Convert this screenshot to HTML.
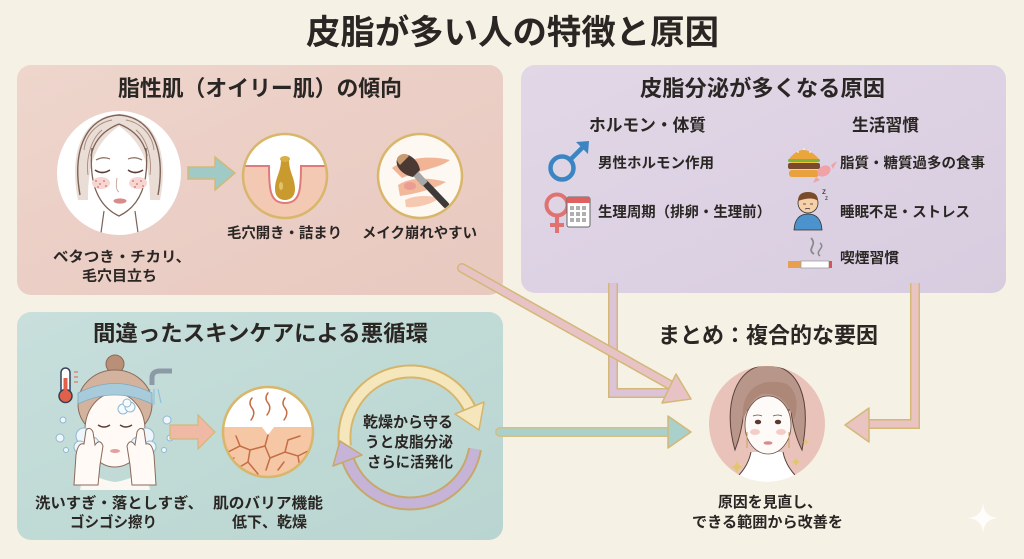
<!DOCTYPE html>
<html lang="ja">
<head>
<meta charset="utf-8">
<style>
  html,body{margin:0;padding:0;background:#f5f1e5;}
  svg{display:block;}
  text{font-family:"Liberation Sans","Noto Sans CJK JP",sans-serif;font-weight:700;fill:#2a2624;}
</style>
</head>
<body>
<svg width="1024" height="559" viewBox="0 0 1024 559" xmlns="http://www.w3.org/2000/svg">
  <defs>
    <linearGradient id="gPink" x1="0" y1="0" x2="1" y2="1">
      <stop offset="0" stop-color="#eed6cd"/>
      <stop offset="0.5" stop-color="#ebcec5"/>
      <stop offset="1" stop-color="#e8c9c0"/>
    </linearGradient>
    <linearGradient id="gLav" x1="0" y1="0" x2="1" y2="1">
      <stop offset="0" stop-color="#e1d7e6"/>
      <stop offset="0.5" stop-color="#ddd2e3"/>
      <stop offset="1" stop-color="#d8cde0"/>
    </linearGradient>
    <linearGradient id="gTeal" x1="0" y1="0" x2="1" y2="1">
      <stop offset="0" stop-color="#c8dfdc"/>
      <stop offset="0.5" stop-color="#c0dad6"/>
      <stop offset="1" stop-color="#bad5d1"/>
    </linearGradient>
    <clipPath id="c1"><circle cx="119" cy="173" r="62"/></clipPath>
    <clipPath id="c2"><circle cx="285" cy="176" r="42"/></clipPath>
    <clipPath id="c3"><circle cx="420" cy="176" r="42"/></clipPath>
    <clipPath id="c4"><circle cx="268" cy="432" r="45"/></clipPath>
    <clipPath id="c5"><circle cx="767" cy="424" r="58"/></clipPath>
  </defs>

  <rect x="0" y="0" width="1024" height="559" fill="#f5f1e5"/>

  <text x="306" y="44" font-size="34" textLength="413" lengthAdjust="spacingAndGlyphs">皮脂が多い人の特徴と原因</text>

  <rect x="17" y="65" width="486" height="230" rx="14" fill="url(#gPink)"/>
  <rect x="521" y="65" width="485" height="228" rx="14" fill="url(#gLav)"/>
  <rect x="17" y="312" width="486" height="228" rx="14" fill="url(#gTeal)"/>

  <!-- ===== Panel 1 ===== -->
  <text x="118" y="96" font-size="22" textLength="284" lengthAdjust="spacingAndGlyphs">脂性肌（オイリー肌）の傾向</text>

  <circle cx="119" cy="173" r="62" fill="#ffffff"/>
  <g clip-path="url(#c1)">
    <path d="M78,200 C68,150 84,116 119,114 C154,116 170,150 160,200 L150,200 C150,170 146,145 119,126 C92,145 88,170 88,200 Z" fill="#e9ddd6"/>
    <path d="M84,150 C86,132 100,122 112,120 M154,150 C152,132 138,122 126,120 M88,175 C86,160 90,140 102,130 M150,175 C152,160 148,140 136,130" fill="none" stroke="#a88a7c" stroke-width="0.9"/>
    <path d="M80,195 C72,150 86,117 119,115 C152,117 166,150 158,195" fill="none" stroke="#7d6256" stroke-width="1.4"/>
    <path d="M92,148 C89,180 96,205 119,216 C142,205 149,180 146,148" fill="none" stroke="#7d6256" stroke-width="1.3"/>
    <path d="M119,124 C104,130 94,140 91,156 M119,124 C134,130 144,140 147,156" fill="none" stroke="#7d6256" stroke-width="1.3"/>
    <path d="M96,160 Q103,156 110,159 M128,159 Q135,156 142,160" fill="none" stroke="#8a6a5e" stroke-width="1.2"/>
    <path d="M95,170 Q102,175 110,170 M128,170 Q135,175 143,170" fill="none" stroke="#5a4038" stroke-width="1.6"/>
    <ellipse cx="101" cy="183" rx="9" ry="6" fill="#f7d6d2"/>
    <ellipse cx="138" cy="183" rx="9" ry="6" fill="#f7d6d2"/>
    <g fill="#d0706a">
      <circle cx="96" cy="181" r="0.9"/><circle cx="100" cy="184" r="0.9"/><circle cx="104" cy="181" r="0.9"/><circle cx="98" cy="187" r="0.9"/><circle cx="106" cy="186" r="0.9"/>
      <circle cx="133" cy="181" r="0.9"/><circle cx="137" cy="184" r="0.9"/><circle cx="141" cy="181" r="0.9"/><circle cx="135" cy="187" r="0.9"/><circle cx="143" cy="186" r="0.9"/>
    </g>
    <path d="M117,178 Q115,190 119,192" fill="none" stroke="#c9a89c" stroke-width="1"/>
    <ellipse cx="120" cy="201" rx="6.5" ry="2.6" fill="#d98b8b"/>
    <path d="M104,211 L100,240 M135,211 L139,240" fill="none" stroke="#7d6256" stroke-width="1.2"/>
  </g>

  <path d="M188,167 H215 V157 L235,173 L215,190 V179 H188 Z" fill="#9fcac6" stroke="#d4b878" stroke-width="1.5"/>

  <circle cx="285" cy="176" r="42" fill="#ffffff"/>
  <g clip-path="url(#c2)">
    <path d="M240,166 H269 C269,190 270,203 285,203 C300,203 301,190 301,166 H330 V220 H240 Z" fill="#f3c9b3"/>
    <path d="M240,166 H269 C269,190 270,203 285,203 C300,203 301,190 301,166 H330" fill="none" stroke="#e07b7b" stroke-width="2"/>
    <path d="M281,160 C281,172 275,178 275,189 C275,197 280,200 285,200 C290,200 295,197 295,189 C295,178 289,172 289,160 Z" fill="#c99b2e"/>
    <ellipse cx="285" cy="159" rx="5" ry="3" fill="#d8ae45"/>
    <ellipse cx="281" cy="186" rx="2" ry="4" fill="#e8cc7a" opacity="0.8"/>
  </g>
  <circle cx="285" cy="176" r="42" fill="none" stroke="#d8b66a" stroke-width="2.5"/>

  <circle cx="420" cy="176" r="42" fill="#fdf8f2"/>
  <g clip-path="url(#c3)">
    <path d="M392,168 C405,158 430,155 450,160 C440,168 420,170 402,178 Z" fill="#f1b596"/>
    <path d="M398,185 C412,176 432,178 446,182 C432,190 414,194 400,196 Z" fill="#f0b090" opacity="0.9"/>
    <path d="M405,200 C418,194 430,196 440,198 C430,205 416,208 406,207 Z" fill="#f2bb9e" opacity="0.8"/>
    <ellipse cx="410" cy="186" rx="6" ry="4" fill="#e89090" opacity="0.7"/>
  </g>
  <line x1="425" y1="183" x2="446" y2="205" stroke="#3f3a3a" stroke-width="6.5" stroke-linecap="round"/>
  <line x1="416" y1="174" x2="425" y2="184" stroke="#a7a7a7" stroke-width="7"/>
  <path d="M398,157 C405,150 418,158 420,170 L413,177 C402,175 393,165 398,157 Z" fill="#4a3a33"/>
  <path d="M398,157 C401,153 406,153 409,156 L400,165 C397,162 396,159 398,157 Z" fill="#c99b6e"/>
  <circle cx="420" cy="176" r="42" fill="none" stroke="#d8b66a" stroke-width="2.5"/>

  <text x="227" y="238" font-size="14.5" textLength="115" lengthAdjust="spacingAndGlyphs">毛穴開き・詰まり</text>
  <text x="362" y="238" font-size="14.5" textLength="115" lengthAdjust="spacingAndGlyphs">メイク崩れやすい</text>
  <text x="53" y="262" font-size="14.5" textLength="138" lengthAdjust="spacingAndGlyphs">ベタつき・チカリ、</text>
  <text x="82" y="281" font-size="14.5" textLength="75" lengthAdjust="spacingAndGlyphs">毛穴目立ち</text>

  <!-- ===== Panel 2 ===== -->
  <text x="640" y="96" font-size="22" textLength="245" lengthAdjust="spacingAndGlyphs">皮脂分泌が多くなる原因</text>
  <text x="589" y="131" font-size="17" textLength="117" lengthAdjust="spacingAndGlyphs">ホルモン・体質</text>
  <text x="852" y="131" font-size="17" textLength="67" lengthAdjust="spacingAndGlyphs">生活習慣</text>

  <circle cx="562" cy="168" r="11.5" fill="none" stroke="#3b86c2" stroke-width="4.5"/>
  <line x1="570" y1="160" x2="583" y2="147" stroke="#3b86c2" stroke-width="4.5"/>
  <path d="M576,142 L589,141 L588,154 Z" fill="#3b86c2"/>
  <text x="598" y="168" font-size="14.5" textLength="116" lengthAdjust="spacingAndGlyphs">男性ホルモン作用</text>

  <circle cx="557" cy="205" r="10.5" fill="none" stroke="#e07272" stroke-width="4"/>
  <line x1="557" y1="215" x2="557" y2="233" stroke="#e07272" stroke-width="4"/>
  <line x1="550" y1="225" x2="564" y2="225" stroke="#e07272" stroke-width="4"/>
  <rect x="567" y="197" width="23" height="30" rx="2" fill="#ffffff" stroke="#666" stroke-width="1"/>
  <rect x="567" y="197" width="23" height="6" fill="#e06060"/>
  <g fill="#b0b0b0">
    <rect x="570" y="206" width="4" height="4"/><rect x="576" y="206" width="4" height="4"/><rect x="582" y="206" width="4" height="4"/>
    <rect x="570" y="212" width="4" height="4"/><rect x="576" y="212" width="4" height="4"/><rect x="582" y="212" width="4" height="4"/>
    <rect x="570" y="218" width="4" height="4"/><rect x="576" y="218" width="4" height="4"/><rect x="582" y="218" width="4" height="4"/>
  </g>
  <text x="598" y="217" font-size="14.5" textLength="173" lengthAdjust="spacingAndGlyphs">生理周期（排卵・生理前）</text>

  <path d="M789,159 Q803,141 819,159 Z" fill="#eaa53c"/>
  <g fill="#fff4d8"><circle cx="798" cy="152" r="0.9"/><circle cx="804" cy="149" r="0.9"/><circle cx="810" cy="152" r="0.9"/></g>
  <rect x="788" y="159" width="32" height="3" rx="1.5" fill="#7cb342"/>
  <path d="M789,162 H819 L804,166 Z" fill="#f4c430"/>
  <rect x="788" y="163" width="32" height="6" rx="2" fill="#7a4a2e"/>
  <rect x="789" y="170" width="30" height="7" rx="3" fill="#e8a13d"/>
  <ellipse cx="824" cy="171" rx="7" ry="5" fill="#f1a1a8" transform="rotate(-30 824 171)"/>
  <path d="M816,177 L813,183 L820,180 Z M831,165 L837,161 L833,169 Z" fill="#f1a1a8"/>
  <text x="840" y="168" font-size="14.5" textLength="145" lengthAdjust="spacingAndGlyphs">脂質・糖質過多の食事</text>

  <path d="M794,230 Q795,214 808,214 Q821,214 822,230 Z" fill="#4c92cc" stroke="#333" stroke-width="0.8"/>
  <circle cx="808" cy="203" r="10" fill="#f6d0a8" stroke="#333" stroke-width="0.8"/>
  <path d="M798,201 Q798,192 808,192 Q818,192 818,201 Q812,196 798,201 Z" fill="#7a4b2a"/>
  <path d="M803,204 h3 M810,204 h3 M805,209 q3,-1 5,0" stroke="#333" stroke-width="0.8" fill="none"/>
  <text x="822" y="194" font-size="8" style="font-weight:400">z</text>
  <text x="825" y="200" font-size="6" style="font-weight:400">z</text>
  <text x="840" y="217" font-size="14.5" textLength="130" lengthAdjust="spacingAndGlyphs">睡眠不足・ストレス</text>

  <path d="M814,254 C806,249 818,245 811,238" fill="none" stroke="#8a8a8a" stroke-width="1.8"/>
  <path d="M820,256 C814,251 826,248 820,243" fill="none" stroke="#8a8a8a" stroke-width="1.5"/>
  <rect x="788" y="261" width="13" height="7" fill="#e8a050"/>
  <rect x="801" y="261" width="28" height="7" fill="#ffffff" stroke="#a0a0a0" stroke-width="0.8"/>
  <rect x="829" y="261" width="3" height="7" fill="#d9534f"/>
  <text x="840" y="263" font-size="14.5" textLength="59" lengthAdjust="spacingAndGlyphs">喫煙習慣</text>

  <!-- ===== Panel 3 ===== -->
  <text x="93" y="341" font-size="22" textLength="335" lengthAdjust="spacingAndGlyphs">間違ったスキンケアによる悪循環</text>

  <rect x="61" y="368" width="9" height="28" rx="4.5" fill="#ffffff" stroke="#34405a" stroke-width="1.5"/>
  <circle cx="65.5" cy="396" r="6.5" fill="#e0604a" stroke="#34405a" stroke-width="1.5"/>
  <rect x="63.5" y="378" width="4" height="16" fill="#e0604a"/>
  <path d="M74,372 h4 M74,377 h4 M74,382 h4" stroke="#e0604a" stroke-width="1"/>
  <path d="M152,385 V378 Q152,371 160,371 H172" fill="none" stroke="#8c9aa6" stroke-width="5"/>
  <path d="M150,389 L147,403 M154,389 L154,405 M158,389 L161,403" stroke="#8fc1e0" stroke-width="1.2"/>

  <circle cx="115" cy="364" r="9" fill="#b98f78" stroke="#8a6a5a" stroke-width="1"/>
  <ellipse cx="115" cy="404" rx="37" ry="34" fill="#d4b39e" stroke="#8a6a5a" stroke-width="1"/>
  <path d="M84,470 Q100,480 115,482 Q130,480 146,470 L150,490 H80 Z" fill="#fbf7f3"/>
  <ellipse cx="115" cy="430" rx="30" ry="37" fill="#fffaf6" stroke="#8a6a5a" stroke-width="1"/>
  <path d="M78,393 Q115,374 152,393 L152,404 Q115,386 78,404 Z" fill="#a7cbdb" stroke="#7ea9bd" stroke-width="0.8"/>
  <g fill="#f4fafd" stroke="#8fb8d0" stroke-width="1">
    <circle cx="123" cy="409" r="5"/><circle cx="130" cy="407" r="5"/><circle cx="127" cy="403" r="4"/>
  </g>
  <path d="M98,425 Q104,429 110,425 M120,425 Q126,429 132,425" fill="none" stroke="#5a4038" stroke-width="1.4"/>
  <ellipse cx="115" cy="451" rx="5" ry="2" fill="#e3a0a0"/>
  <g fill="#eef6fb" stroke="#8fb8d0" stroke-width="1">
    <circle cx="84" cy="436" r="8"/><circle cx="92" cy="444" r="7"/><circle cx="80" cy="447" r="6"/>
    <circle cx="146" cy="436" r="8"/><circle cx="138" cy="444" r="7"/><circle cx="150" cy="447" r="6"/>
    <circle cx="63" cy="420" r="3"/><circle cx="60" cy="438" r="4"/><circle cx="66" cy="450" r="2.5"/>
    <circle cx="167" cy="420" r="4"/><circle cx="170" cy="438" r="3"/><circle cx="164" cy="450" r="2.5"/>
  </g>
  <path d="M74,485 L76,455 Q78,442 84,444 L86,430 Q90,426 93,432 L95,445 Q100,438 103,446 L100,465 L98,485 Z" fill="#fffaf6" stroke="#8a6a5a" stroke-width="1"/>
  <path d="M156,485 L154,455 Q152,442 146,444 L144,430 Q140,426 137,432 L135,445 Q130,438 127,446 L130,465 L132,485 Z" fill="#fffaf6" stroke="#8a6a5a" stroke-width="1"/>

  <path d="M170,425 H198 V415 L215,432 L198,449 V439 H170 Z" fill="#efb9a5" stroke="#d4b878" stroke-width="1.2"/>

  <circle cx="268" cy="432" r="45" fill="#ffffff"/>
  <g clip-path="url(#c4)">
    <path d="M220,427 H262 L268,435 L274,427 H316 V480 H220 Z" fill="#f5c7a5"/>
    <g fill="none" stroke="#c56d45" stroke-width="1.5" stroke-linecap="round">
      <path d="M268,435 L265,446 L270,458 L266,470"/>
      <path d="M265,446 L250,450 L240,446 L228,452"/>
      <path d="M250,450 L248,462 L238,468"/>
      <path d="M270,458 L285,452 L298,456 L310,450"/>
      <path d="M285,452 L288,440 L300,436"/>
      <path d="M298,456 L300,468 L292,476"/>
      <path d="M240,446 L236,436"/>
      <path d="M248,462 L258,474"/>
      <path d="M226,462 L234,458"/>
      <path d="M278,470 L284,462"/>
      <path d="M252,398 q-4,5 0,10 q4,5 -1,12"/>
      <path d="M268,393 q-4,5 0,10 q4,5 -1,12"/>
      <path d="M285,398 q-4,5 0,10 q4,5 -1,12"/>
    </g>
  </g>
  <circle cx="268" cy="432" r="45" fill="none" stroke="#d8b66a" stroke-width="2.5"/>

  <path d="M345,446 A66,66 0 0 1 470,409" fill="none" stroke="#d6b56a" stroke-width="14"/>
  <path d="M345,446 A66,66 0 0 1 470,409" fill="none" stroke="#f5e6bb" stroke-width="10"/>
  <path d="M484,402 L479,430 L455,414 Z" fill="#f5e6bb" stroke="#d6b56a" stroke-width="1.5" stroke-linejoin="round"/>
  <path d="M475,449 A66,66 0 0 1 348,460" fill="none" stroke="#c8a76a" stroke-width="14"/>
  <path d="M475,449 A66,66 0 0 1 348,460" fill="none" stroke="#c6b4d8" stroke-width="10"/>
  <path d="M333,466 L340,441 L362,455 Z" fill="#c6b4d8" stroke="#c8a76a" stroke-width="1.5" stroke-linejoin="round"/>

  <text x="363" y="427" font-size="15" textLength="90" lengthAdjust="spacingAndGlyphs">乾燥から守る</text>
  <text x="365" y="447" font-size="15" textLength="88" lengthAdjust="spacingAndGlyphs">うと皮脂分泌</text>
  <text x="367" y="467" font-size="15" textLength="86" lengthAdjust="spacingAndGlyphs">さらに活発化</text>

  <text x="35" y="508" font-size="15" textLength="168" lengthAdjust="spacingAndGlyphs">洗いすぎ・落としすぎ、</text>
  <text x="70" y="527" font-size="15" textLength="87" lengthAdjust="spacingAndGlyphs">ゴシゴシ擦り</text>
  <text x="213" y="508" font-size="15" textLength="110" lengthAdjust="spacingAndGlyphs">肌のバリア機能</text>
  <text x="232" y="527" font-size="15" textLength="75" lengthAdjust="spacingAndGlyphs">低下、乾燥</text>

  <!-- ===== Connecting arrows ===== -->
  <path d="M613,283 V393 H672" fill="none" stroke="#d4b878" stroke-width="10"/>
  <path d="M613,283 V393 H672" fill="none" stroke="#dcc3d8" stroke-width="7"/>
  <line x1="462" y1="268" x2="672" y2="386" stroke="#d4b878" stroke-width="10" stroke-linecap="round"/>
  <line x1="462" y1="268" x2="672" y2="386" stroke="#e7c3c5" stroke-width="7" stroke-linecap="round"/>
  <path d="M676,374 L691,399 L662,403 Z" fill="#e7c3c5" stroke="#d4b878" stroke-width="1.5" stroke-linejoin="round"/>
  <line x1="500" y1="432" x2="672" y2="432" stroke="#d4c080" stroke-width="10" stroke-linecap="round"/>
  <line x1="500" y1="432" x2="672" y2="432" stroke="#a9d0ca" stroke-width="7" stroke-linecap="round"/>
  <path d="M668,416 L691,432 L668,448 Z" fill="#a9d0ca" stroke="#d4b878" stroke-width="1.5" stroke-linejoin="round"/>
  <path d="M915,283 V424 H866" fill="none" stroke="#d4b878" stroke-width="10"/>
  <path d="M915,283 V424 H866" fill="none" stroke="#e9c4c1" stroke-width="7"/>
  <path d="M869,408 L845,425 L869,442 Z" fill="#e9c4c1" stroke="#d4b878" stroke-width="1.5" stroke-linejoin="round"/>

  <text x="658" y="343" font-size="22" textLength="220" lengthAdjust="spacingAndGlyphs">まとめ：複合的な要因</text>

  <circle cx="767" cy="424" r="58" fill="#e9c3ba"/>
  <g clip-path="url(#c5)">
    <path d="M724,492 Q744,474 751,452 L783,452 Q790,474 810,492 Z" fill="#ffffff"/>
    <path d="M751,452 Q747,472 726,486 M783,452 Q787,472 808,486" fill="none" stroke="#5a4038" stroke-width="1"/>
    <path d="M735,450 C722,405 736,366 767,365 C799,366 812,398 802,450 Q793,432 791,410 L744,410 Q742,432 735,450 Z" fill="#b8978a" stroke="#5a4038" stroke-width="1"/>
    <ellipse cx="768" cy="425" rx="23" ry="29" fill="#fefaf7" stroke="#6a5046" stroke-width="0.8"/>
    <path d="M743,420 C740,390 760,376 787,384 C797,391 799,405 794,420 C789,402 778,392 762,394 C752,398 748,408 743,420 Z" fill="#ad8878"/>
    <ellipse cx="758" cy="422" rx="3.2" ry="2.3" fill="#5a3a30"/>
    <ellipse cx="778" cy="422" rx="3.2" ry="2.3" fill="#5a3a30"/>
    <path d="M753,416 q5,-2 9,0 M773,416 q5,-2 9,0" fill="none" stroke="#6a5046" stroke-width="0.8"/>
    <ellipse cx="755" cy="432" rx="5" ry="3" fill="#f2c0bb" opacity="0.8"/>
    <ellipse cx="781" cy="432" rx="5" ry="3" fill="#f2c0bb" opacity="0.8"/>
    <ellipse cx="768" cy="443" rx="4.5" ry="1.8" fill="#d98a8a"/>
    <line x1="747" y1="432" x2="747" y2="448" stroke="#c9a060" stroke-width="1"/>
    <line x1="789" y1="432" x2="789" y2="448" stroke="#c9a060" stroke-width="1"/>
  </g>
  <g fill="#e2c66a">
    <path d="M737,459 Q737,467 745,467 Q737,467 737,475 Q737,467 729,467 Q737,467 737,459 Z"/>
    <path d="M796,456 Q796,462 802,462 Q796,462 796,468 Q796,462 790,462 Q796,462 796,456 Z"/>
    <path d="M806,438 Q806,442 810,442 Q806,442 806,446 Q806,442 802,442 Q806,442 806,438 Z"/>
  </g>

  <text x="718" y="507" font-size="15" textLength="104" lengthAdjust="spacingAndGlyphs">原因を見直し、</text>
  <text x="692" y="527" font-size="15" textLength="151" lengthAdjust="spacingAndGlyphs">できる範囲から改善を</text>

  <path d="M983,501 Q983,518 1000,518 Q983,518 983,535 Q983,518 966,518 Q983,518 983,501 Z" fill="#ffffff" opacity="0.85"/>
</svg>
</body>
</html>
